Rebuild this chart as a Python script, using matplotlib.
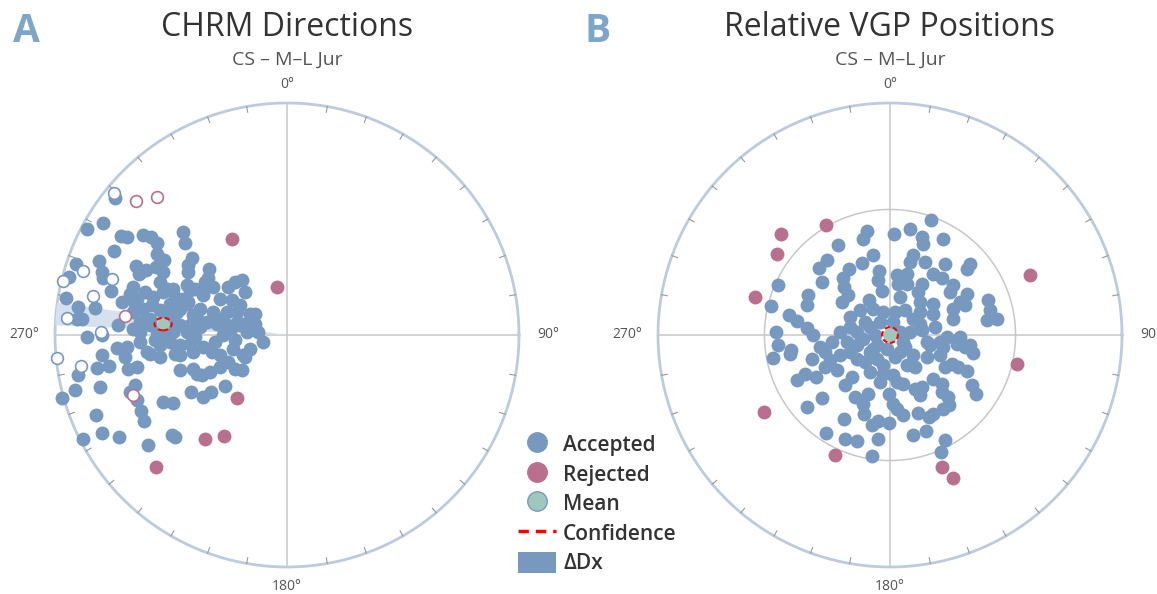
import matplotlib.pyplot as plt
import numpy as np
from matplotlib.lines import Line2D
from matplotlib.patches import Patch, Ellipse, Circle, Polygon

plt.rcParams['font.family'] = ['Open Sans', 'DejaVu Sans']

BLUE = '#7799c0'
PINK = '#b9708f'
MEANC = '#9dc8bb'
RIM = '#bccbdd'
GRID = '#c8c8c8'

# Panel A - ChRM directions, equal-area projection (east, north), net radius = 1
chrm_acc = [
    (-0.741, 0.591), (-0.793, 0.483), (-0.862, 0.457), (-0.448, 0.444), (-0.440, 0.397),
    (-0.716, 0.427), (-0.690, 0.422), (-0.621, 0.431), (-0.586, 0.422), (-0.560, 0.397),
    (-0.746, 0.362), (-0.810, 0.319), (-0.909, 0.306), (-0.940, 0.250), (-0.797, 0.272),
    (-0.793, 0.246), (-0.759, 0.190), (-0.560, 0.349), (-0.530, 0.323), (-0.651, 0.297),
    (-0.608, 0.280), (-0.638, 0.263), (-0.565, 0.293), (-0.534, 0.272), (-0.409, 0.332),
    (-0.427, 0.302), (-0.427, 0.272), (-0.336, 0.284), (-0.341, 0.246), (-0.224, 0.228),
    (-0.194, 0.237), (-0.181, 0.185), (-0.345, 0.220), (-0.319, 0.207), (-0.901, 0.121),
    (-0.828, 0.116), (-0.905, 0.069), (-0.884, 0.069), (-0.862, -0.009), (-0.797, 0.000),
    (-0.953, 0.159),
    (-0.664, 0.207), (-0.677, 0.177), (-0.647, 0.155), (-0.578, 0.164), (-0.517, 0.198),
    (-0.491, 0.198), (-0.431, 0.216), (-0.397, 0.198), (-0.448, 0.155), (-0.427, 0.142),
    (-0.362, 0.172), (-0.289, 0.155), (-0.237, 0.151), (-0.203, 0.129), (-0.216, 0.099),
    (-0.159, 0.091), (-0.138, 0.091), (-0.125, 0.013), (-0.259, 0.099), (-0.319, 0.099),
    (-0.375, 0.112), (-0.405, 0.086), (-0.345, 0.056), (-0.289, 0.069), (-0.203, 0.043),
    (-0.172, 0.013), (-0.664, 0.099), (-0.621, 0.112), (-0.591, 0.069), (-0.664, 0.026),
    (-0.634, 0.013), (-0.474, 0.099), (-0.461, 0.043), (-0.431, 0.013), (-0.491, 0.013),
    (-0.582, 0.129), (-0.534, 0.185), (-0.504, 0.134), (-0.461, 0.112), (-0.431, 0.134),
    (-0.547, 0.108), (-0.216, 0.056), (-0.190, 0.047), (-0.302, 0.047), (-0.259, 0.043),
    (-0.375, 0.034), (-0.418, 0.043), (-0.276, 0.000), (-0.224, -0.022), (-0.159, -0.060),
    (-0.181, -0.095), (-0.254, -0.116), (-0.289, -0.138), (-0.224, -0.147), (-0.194, -0.151),
    (-0.362, -0.052), (-0.323, -0.073), (-0.289, -0.086), (-0.461, -0.043), (-0.418, -0.039),
    (-0.405, -0.073), (-0.547, -0.043), (-0.547, -0.095), (-0.461, -0.151), (-0.405, -0.147),
    (-0.366, -0.172), (-0.332, -0.159), (-0.517, 0.004), (-0.560, 0.013), (-0.591, 0.043),
    (-0.103, -0.030), (-0.655, 0.134), (-0.634, -0.030), (-0.690, -0.052), (-0.418, 0.194),
    (-0.353, 0.228), (-0.612, 0.056), (-0.504, 0.065), (-0.569, -0.022), (-0.504, -0.030),
    (-0.526, 0.091), (-0.612, 0.185), (-0.547, 0.228), (-0.483, 0.164), (-0.384, 0.065),
    (-0.246, 0.013), (-0.310, -0.030), (-0.397, -0.009), (-0.483, -0.082), (-0.591, -0.082),
    (-0.634, 0.056), (-0.711, 0.142), (-0.728, 0.043), (-0.138, 0.047), (-0.254, 0.207),
    (-0.733, -0.056), (-0.698, -0.095), (-0.685, -0.147), (-0.647, -0.138), (-0.603, -0.073),
    (-0.461, -0.086), (-0.233, -0.060), (-0.190, -0.086), (-0.388, -0.168), (-0.797, -0.086),
    (-0.819, -0.142), (-0.767, -0.134), (-0.901, -0.172), (-0.914, -0.237), (-0.806, -0.224),
    (-0.970, -0.272), (-0.655, -0.216), (-0.677, -0.246), (-0.647, -0.280), (-0.629, -0.328),
    (-0.616, -0.371), (-0.414, -0.246), (-0.362, -0.267), (-0.328, -0.246), (-0.267, -0.220),
    (-0.534, -0.289), (-0.491, -0.293), (-0.823, -0.345), (-0.797, -0.422), (-0.879, -0.448),
    (-0.724, -0.440), (-0.599, -0.474), (-0.496, -0.431), (-0.483, -0.440),
]
chrm_acc_up = [
    (-0.746, 0.612), (-0.879, 0.276), (-0.966, 0.233), (-0.754, 0.241), (-0.836, 0.168),
    (-0.948, 0.073), (-0.802, 0.013), (-0.991, -0.099), (-0.888, -0.134),
]
chrm_rej = [
    (-0.237, 0.414), (-0.043, 0.207), (-0.216, -0.272), (-0.353, -0.448), (-0.272, -0.435),
    (-0.565, -0.569),
]
chrm_rej_up = [(-0.651, 0.578), (-0.560, 0.595), (-0.698, 0.082), (-0.664, -0.259)]
chrm_mean = (-0.534, 0.047)
chrm_conf = (0.074, 0.054)
chrm_dec = 275.2
chrm_ddx = 2.8

# Panel B - relative VGP positions, equal-area (east, north), net radius = 1
vgp_acc = [
    (0.177, 0.496), (0.086, 0.457), (0.138, 0.422), (0.142, 0.392), (0.228, 0.414),
    (0.017, 0.435), (-0.099, 0.448), (-0.116, 0.414), (-0.224, 0.388), (-0.073, 0.345),
    (-0.121, 0.310), (-0.272, 0.323), (-0.306, 0.289), (-0.293, 0.228), (-0.177, 0.284),
    (-0.203, 0.246), (-0.198, 0.207), (-0.181, 0.172), (-0.047, 0.276), (-0.052, 0.237),
    (-0.034, 0.190), (-0.207, 0.142), (-0.353, 0.172), (-0.358, 0.129), (-0.483, 0.216),
    (-0.513, 0.125), (-0.435, 0.086), (-0.401, 0.060), (-0.491, 0.013), (-0.483, -0.043),
    (-0.427, -0.065), (-0.358, 0.030), (-0.332, 0.000), (0.030, 0.259), (0.073, 0.263),
    (0.034, 0.220), (0.073, 0.220), (0.099, 0.345), (0.086, 0.315), (0.151, 0.315),
    (0.185, 0.263), (0.224, 0.246), (0.237, 0.306), (0.138, 0.220), (0.043, 0.164),
    (0.121, 0.185), (0.129, 0.142), (0.185, 0.134), (0.272, 0.216), (0.259, 0.185),
    (0.332, 0.177), (0.345, 0.306), (0.332, 0.284), (0.302, 0.142), (0.272, 0.112),
    (0.323, 0.129), (0.272, 0.069), (0.422, 0.151), (0.431, 0.108), (0.418, 0.065),
    (0.461, 0.069), (-0.091, 0.151), (-0.129, 0.108), (-0.073, 0.112), (-0.030, 0.099),
    (0.065, 0.108), (0.099, 0.069), (0.185, 0.091), (0.129, 0.047), (0.138, 0.022),
    (0.246, -0.009), (0.302, -0.009), (0.345, -0.043), (0.216, -0.030), (0.159, -0.030),
    (-0.172, 0.034), (-0.142, 0.013), (-0.086, 0.034), (-0.065, 0.000), (-0.116, -0.017),
    (-0.250, -0.030), (-0.185, -0.030), (-0.043, 0.056), (0.013, 0.056), (0.043, 0.013),
    (0.056, -0.030), (-0.056, -0.043), (-0.013, -0.060),
    (-0.504, -0.099), (-0.431, -0.082), (-0.336, -0.103), (-0.280, -0.138), (-0.259, -0.108),
    (-0.228, -0.151), (-0.216, -0.086), (-0.366, -0.168), (-0.401, -0.194), (-0.319, -0.181),
    (-0.194, -0.216), (-0.164, -0.181), (-0.142, -0.103), (-0.108, -0.116), (-0.142, -0.043),
    (-0.073, -0.060), (-0.056, -0.103), (-0.030, -0.129), (-0.030, -0.168), (0.013, -0.172),
    (0.030, -0.203), (0.056, -0.211), (0.073, -0.129), (0.099, -0.086), (0.172, -0.043),
    (0.159, -0.095), (0.216, -0.086), (0.228, -0.052), (0.289, -0.039), (0.323, -0.052),
    (0.358, -0.078), (0.267, -0.125), (0.293, -0.138), (0.332, -0.155), (0.353, -0.216),
    (0.371, -0.254), (0.224, -0.211), (0.185, -0.190), (0.138, -0.224), (0.108, -0.233),
    (0.129, -0.259), (0.224, -0.246), (0.250, -0.267), (0.254, -0.302), (0.228, -0.319),
    (0.185, -0.341), (0.168, -0.353), (0.121, -0.336), (0.013, -0.297), (0.030, -0.319),
    (0.056, -0.345), (-0.004, -0.254), (-0.095, -0.254), (-0.151, -0.267), (-0.116, -0.297),
    (-0.112, -0.341), (-0.293, -0.272), (-0.358, -0.310), (-0.198, -0.362), (-0.078, -0.388),
    (-0.052, -0.371), (-0.004, -0.379), (-0.276, -0.422), (-0.194, -0.448), (-0.142, -0.457),
    (-0.052, -0.448), (0.099, -0.431), (0.155, -0.414), (0.237, -0.453), (0.220, -0.504),
    (-0.078, -0.522),
    (-0.108, 0.056), (0.065, -0.052), (0.022, -0.095), (-0.086, -0.073), (-0.172, -0.073),
    (-0.302, -0.052), (0.108, -0.138), (-0.172, 0.078), (0.022, 0.099), (0.086, 0.013),
    (0.129, 0.099), (-0.043, -0.203), (-0.216, 0.013), (-0.086, -0.159), (0.043, -0.073),
    (0.194, 0.034), (-0.280, -0.073), (0.237, -0.138),
]
vgp_rej = [
    (-0.470, 0.435), (-0.276, 0.474), (-0.487, 0.349), (-0.582, 0.164), (0.603, 0.259),
    (0.547, -0.125), (-0.543, -0.332), (-0.237, -0.517), (0.224, -0.569), (0.272, -0.616),
]
vgp_mean = (0.0, 0.0)
vgp_conf = 0.068
vgp_ring = 45  # degrees of angular distance


def ea_radius(deg):
    return np.sqrt(2) * np.sin(np.radians(deg) / 2)


def draw_net(ax, ring=None):
    t = np.linspace(0, 2 * np.pi, 500)
    ax.plot([-1, 1], [0, 0], color=GRID, lw=1.1, zorder=0)
    ax.plot([0, 0], [-1, 1], color=GRID, lw=1.1, zorder=0)
    if ring is not None:
        r = ea_radius(ring)
        ax.plot(r * np.cos(t), r * np.sin(t), color=GRID, lw=1.1, zorder=0)
    ax.plot(np.cos(t), np.sin(t), color=RIM, lw=2.0, zorder=1)
    for d in range(10, 360, 10):
        if d % 90 == 0:
            continue
        a = np.radians(d)
        ax.plot([0.975 * np.sin(a), np.sin(a)], [0.975 * np.cos(a), np.cos(a)],
                color='#999999', lw=0.8, zorder=1)
    lab = dict(fontsize=10, color='#555555', ha='center', va='center')
    ax.text(0, 1.078, '0°', **lab)
    ax.text(1.125, 0, '90°', **lab)
    ax.text(0, -1.086, '180°', **lab)
    ax.text(-1.134, 0, '270°', **lab)
    ax.set_xlim(-1.2, 1.2)
    ax.set_ylim(-1.2, 1.2)
    ax.set_aspect('equal')
    ax.axis('off')


fig = plt.figure(figsize=(11.57, 5.94), dpi=100)
W, H = 1157, 594
R = 232
box = 2.4 * R


def net_axes(cx, cy):
    return fig.add_axes([(cx - box / 2) / W, (H - cy - box / 2) / H, box / W, box / H])


axA = net_axes(287, 335)
axB = net_axes(890, 335)
draw_net(axA)
draw_net(axB, ring=vgp_ring)

ms = 100

# panel A
a0 = np.radians(np.linspace(chrm_dec - chrm_ddx, chrm_dec + chrm_ddx, 30))
wedge = np.vstack([[0, 0], np.column_stack([np.sin(a0), np.cos(a0)])])
axA.add_patch(Polygon(wedge, closed=True, fc='#d6e1ed', ec='none', zorder=1.5))

acc = np.array(chrm_acc)
axA.scatter(acc[:, 0], acc[:, 1], s=ms, color=BLUE, lw=0, zorder=3)
up = np.array(chrm_acc_up)
axA.scatter(up[:, 0], up[:, 1], s=72, facecolor='white', edgecolor=BLUE, lw=1.2, zorder=3)
rej = np.array(chrm_rej)
axA.scatter(rej[:, 0], rej[:, 1], s=ms, color=PINK, lw=0, zorder=3)
rup = np.array(chrm_rej_up)
axA.scatter(rup[:, 0], rup[:, 1], s=72, facecolor='white', edgecolor=PINK, lw=1.2, zorder=3)
axA.scatter(*chrm_mean, s=85, color=MEANC, lw=0, zorder=4)
axA.add_patch(Ellipse(chrm_mean, chrm_conf[0], chrm_conf[1], fill=False, ec='red',
                      ls=(0, (2.5, 1.5)), lw=1.5, zorder=5))

# panel B
acc = np.array(vgp_acc)
axB.scatter(acc[:, 0], acc[:, 1], s=ms, color=BLUE, lw=0, zorder=3)
rej = np.array(vgp_rej)
axB.scatter(rej[:, 0], rej[:, 1], s=ms, color=PINK, lw=0, zorder=3)
axB.scatter(*vgp_mean, s=110, color=MEANC, lw=0, zorder=4)
axB.add_patch(Circle(vgp_mean, vgp_conf / 2, fill=False, ec='red',
                     ls=(0, (2.5, 1.5)), lw=1.5, zorder=5))

# titles
for cx, ttl, letter, lx in [(287, 'CHRM Directions', 'A', 26), (890, 'Relative VGP Positions', 'B', 598)]:
    fig.text(cx / W, 1 - 28 / H, ttl, fontsize=23, color='#333333', ha='center', va='center')
    fig.text(cx / W, 1 - 60 / H, 'CS – M–L Jur', fontsize=14, color='#555555', ha='center', va='center')
    fig.text(lx / W, 1 - 32 / H, letter, fontsize=28, fontweight='bold', color='#7ea6c8',
             ha='center', va='center')

handles = [
    Line2D([], [], ls='', marker='o', ms=14, mfc=BLUE, mec=BLUE),
    Line2D([], [], ls='', marker='o', ms=14, mfc=PINK, mec=PINK),
    Line2D([], [], ls='', marker='o', ms=14, mfc=MEANC, mec=BLUE, mew=1),
    Line2D([], [], color='red', ls=(0, (3, 2)), lw=2.5),
    Patch(fc=BLUE, ec='none'),
]
labels = ['Accepted', 'Rejected', 'Mean', 'Confidence', 'ΔDx']
fig.legend(handles, labels, loc='upper left', bbox_to_anchor=(510 / W, 1 - 425 / H),
           frameon=False, prop=dict(size=15, weight='semibold'), handlelength=1.8,
           handleheight=1.2, labelspacing=0.33, handletextpad=0.35, borderaxespad=0,
           labelcolor='#333333')

fig.savefig('out.png', dpi=100)
